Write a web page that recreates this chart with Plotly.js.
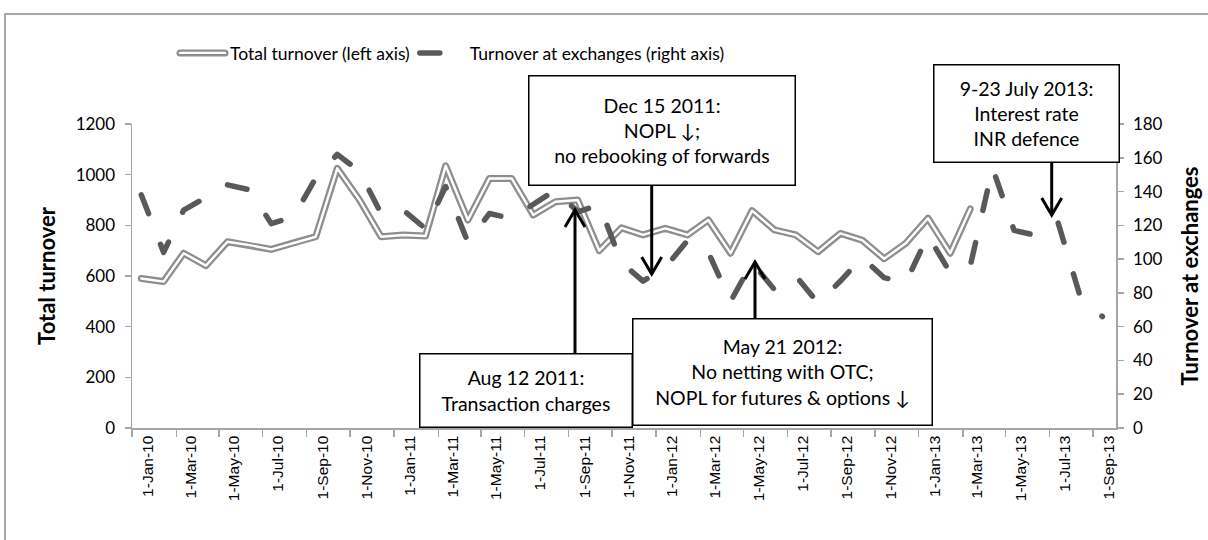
<!DOCTYPE html>
<html><head><meta charset="utf-8">
<script src="https://cdn.plot.ly/plotly-3.0.1.min.js"></script>
<style>
html,body{margin:0;padding:0;background:#fff;}
#chart{width:1208px;height:540px;}
.js-line{stroke-linecap:round!important;stroke-linejoin:round!important;}
</style></head><body><div id="chart"></div>
<script>
// Monthly observations, Jan 2010 - Sep 2013
const months = [
 '2010-01-01','2010-02-01','2010-03-01','2010-04-01','2010-05-01','2010-06-01','2010-07-01','2010-08-01','2010-09-01','2010-10-01','2010-11-01','2010-12-01',
 '2011-01-01','2011-02-01','2011-03-01','2011-04-01','2011-05-01','2011-06-01','2011-07-01','2011-08-01','2011-09-01','2011-10-01','2011-11-01','2011-12-01',
 '2012-01-01','2012-02-01','2012-03-01','2012-04-01','2012-05-01','2012-06-01','2012-07-01','2012-08-01','2012-09-01','2012-10-01','2012-11-01','2012-12-01',
 '2013-01-01','2013-02-01','2013-03-01','2013-04-01','2013-05-01','2013-06-01','2013-07-01','2013-08-01','2013-09-01'];

// Total turnover (left axis), Jan 2010 - Mar 2013
const totalTurnover = [590,578,690,641,735,722,705,731,755,1025,900,755,
 762,758,1035,821,985,985,841,893,900,700,790,762,
 788,762,821,690,858,782,762,696,768,742,668,729,
 828,690,865];

// Turnover at exchanges (right axis), Jan 2010 - Sep 2013
const exchangeTurnover = [138,104,129,137,144,141,121,125,148,162,152,127,
 129,118,143,110,127,124,132,141,128,132,98,87,
 95,111,104,75,98,82,90,74,87,101,89,86,
 114,92,96,154,117,114,122,78,66];

const seriesNames = ['Total turnover (left axis)', 'Turnover at exchanges (right axis)'];

const notes = [
  {text: 'Dec 15 2011:<br>NOPL \u2193;<br>no rebooking of forwards', box:[528,75,795,185]},
  {text: 'Aug 12 2011:<br>Transaction charges', box:[419,353,632,427]},
  {text: 'May 21 2012:<br>No netting with OTC;<br>NOPL for futures &amp; options \u2193', box:[632,318,932,425]},
  {text: '9-23 July 2013:<br>Interest rate<br>INR defence', box:[933,65,1119,163]}
];
// arrows: x, from y, tip y (pixels in chart frame)
const arrows = [[651.7,185,274],[575,353,210],[755,318,262],[1051.7,163,215]];

const W=1208,H=540, M={l:132,r:92,t:124,b:112};
const pw=W-M.l-M.r, ph=H-M.t-M.b;
const px=x=>(x-M.l)/pw, py=y=>(H-M.b-y)/ph;

const grey='#8e8e8e', axisGrey='#a6a6a6', dark='#595959';
const FONT='Lato, "Liberation Sans", sans-serif';

const traces = [
  {x: months.slice(0,totalTurnover.length), y: totalTurnover, name: seriesNames[0], type:'scatter', mode:'lines',
   line:{color:grey, width:7}, yaxis:'y'},
  {x: months.slice(0,totalTurnover.length), y: totalTurnover, name: seriesNames[0], type:'scatter', mode:'lines',
   line:{color:'#ffffff', width:2.4}, yaxis:'y', showlegend:false, hoverinfo:'skip'},
  {x: months, y: exchangeTurnover, name: seriesNames[1], type:'scatter', mode:'lines',
   line:{color:dark, width:5.5, dash:'20px,33px'}, yaxis:'y2'}
];

const shapes = [
  {type:'rect', xref:'paper', yref:'paper', x0:px(5), x1:px(1230), y0:py(560), y1:py(14),
   line:{color:'#8c8c8c', width:1.5}, fillcolor:'rgba(0,0,0,0)', layer:'below'}
];
arrows.forEach(a=>{
  const [x,y0,tip]=a; const dir = tip>y0 ? -1 : 1;
  shapes.push({type:'line', xref:'paper', yref:'paper', x0:px(x), x1:px(x), y0:py(y0), y1:py(tip), line:{color:'#000', width:3}});
  shapes.push({type:'path', xref:'paper', yref:'paper',
    path:`M${px(x-10)},${py(tip+dir*17)} L${px(x)},${py(tip)} L${px(x+10)},${py(tip+dir*17)}`,
    line:{color:'#000', width:3}});
});

const annotations = notes.map(n=>{
  const [x0,y0,x1,y1]=n.box;
  return {xref:'paper', yref:'paper', x:px((x0+x1)/2), y:py((y0+y1)/2), xanchor:'center', yanchor:'middle',
    text:n.text, showarrow:false, bgcolor:'#ffffff', bordercolor:'#000', borderwidth:1.5, borderpad:0,
    width:x1-x0-2, height:y1-y0-2, align:'center', valign:'middle',
    font:{family:FONT, size:19.5, color:'#000'}};
});

const layout = {
  width:W, height:H, margin:M, paper_bgcolor:'#fff', plot_bgcolor:'#fff',
  font:{family:FONT, color:'#000'},
  showlegend:true,
  legend:{orientation:'h', x:px(175), xanchor:'left', y:py(53), yanchor:'middle',
    font:{family:FONT, size:17.5, color:'#000'}, itemwidth:45, bgcolor:'rgba(0,0,0,0)'},
  xaxis:{type:'date', range:['2009-12-19','2013-09-20'], showgrid:false, zeroline:false,
    showline:true, linecolor:axisGrey, linewidth:1.5,
    tick0:'2010-01-01', dtick:'M2', tickformat:'%-d-%b-%y', tickangle:-90, ticks:'', ticklabelshift:7,
    tickfont:{family:'"Liberation Sans", Arial, sans-serif', size:15.5, color:'#000'},
    minor:{ticks:'outside', tick0:'2009-12-19', dtick:'M2', ticklen:7, tickcolor:axisGrey, tickwidth:1.5, showgrid:false}},
  yaxis:{range:[0,1200], dtick:200, showgrid:false, zeroline:false, showline:true, linecolor:axisGrey, linewidth:1.5,
    ticks:'outside', ticklen:6, tickcolor:axisGrey, tickwidth:1.5, ticklabelstandoff:6,
    tickfont:{family:FONT, size:17, color:'#000'},
    title:{text:'<b>Total turnover</b>', font:{family:FONT, size:22, color:'#000'}, standoff:14}},
  yaxis2:{range:[0,180], dtick:20, overlaying:'y', side:'right', showgrid:false, zeroline:false, showline:true,
    linecolor:axisGrey, linewidth:1.5, ticks:'outside', ticklen:6, tickcolor:axisGrey, tickwidth:1.5, ticklabelstandoff:6,
    tickfont:{family:FONT, size:17, color:'#000'},
    title:{text:'<b>Turnover at exchanges</b>', font:{family:FONT, size:22, color:'#000'}, standoff:21}},
  shapes:shapes, annotations:annotations
};

Plotly.newPlot('chart', traces, layout, {displayModeBar:false, staticPlot:true}).then(gd=>{
  // draw the double-line legend symbol
  const items = gd.querySelectorAll('.legend .traces');
  if(items.length){
    const p = items[0].querySelector('path.js-line');
    if(p){ const c = p.cloneNode(true); c.style.stroke='#ffffff'; c.style.strokeWidth='2.4px'; p.parentNode.appendChild(c); }
  }
});
</script></body></html>
